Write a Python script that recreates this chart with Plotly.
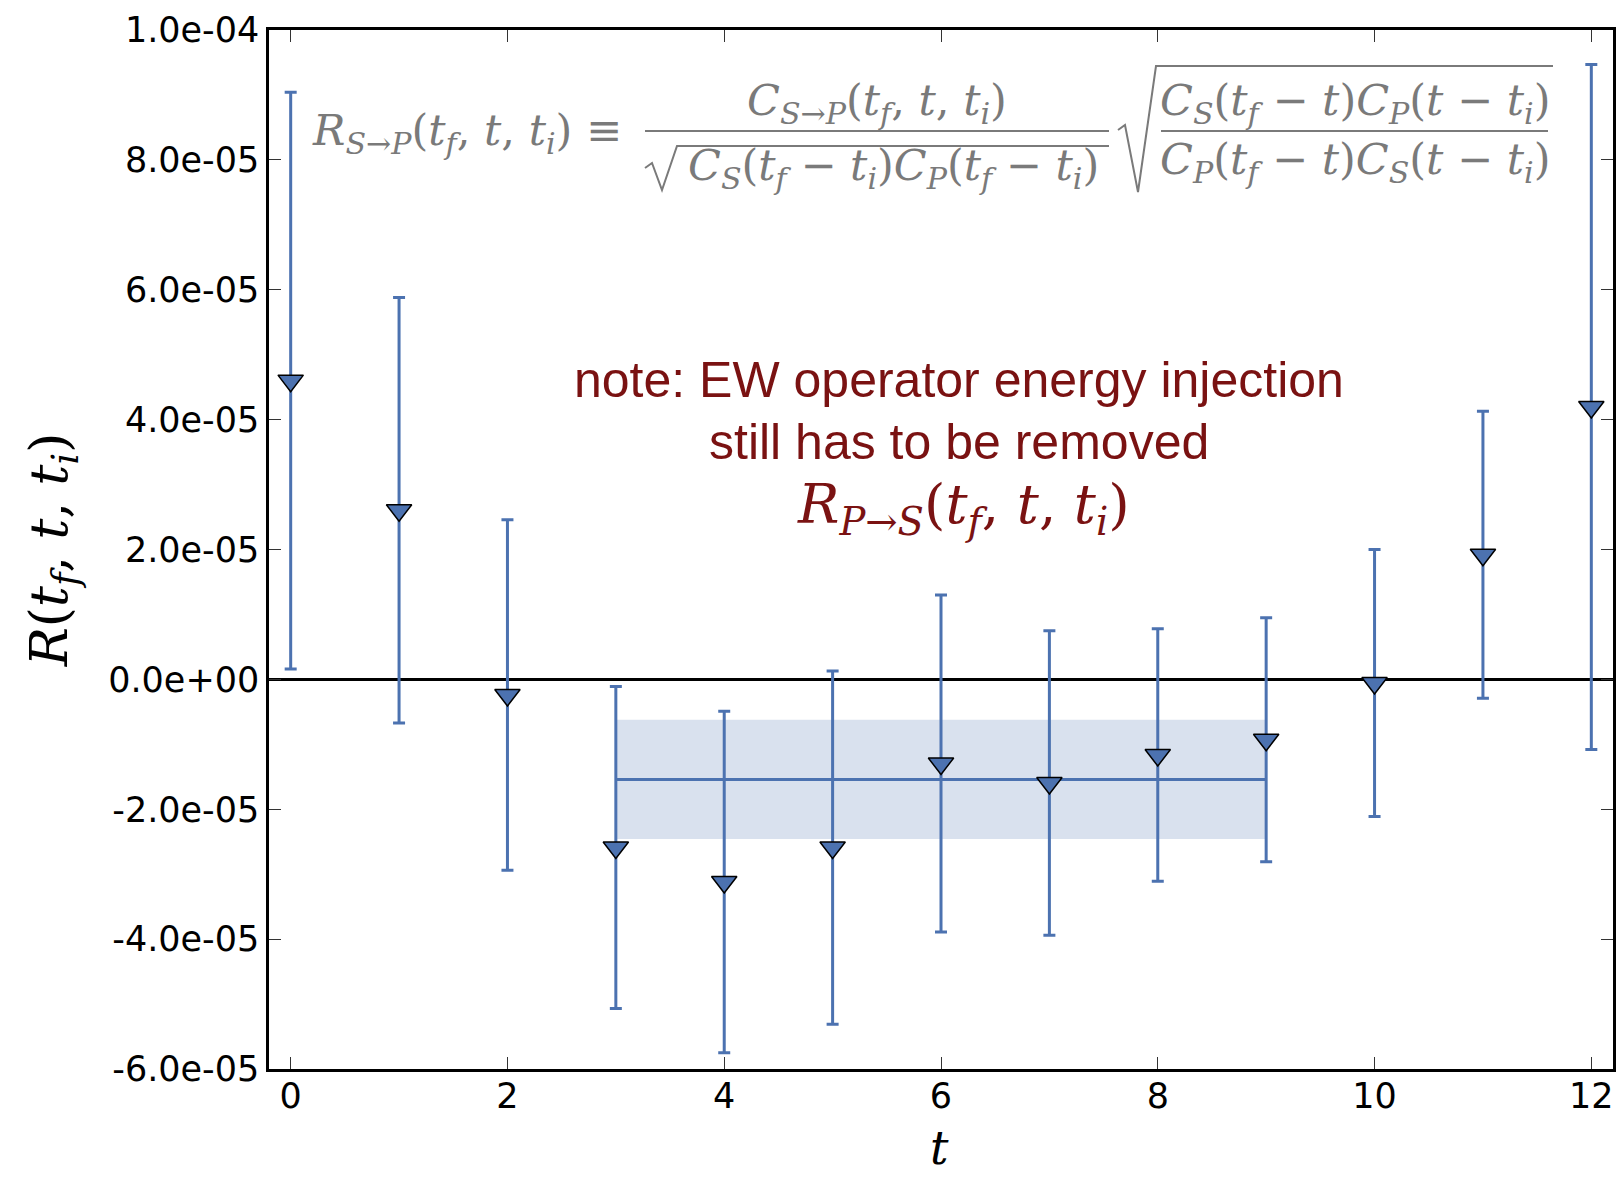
import plotly.graph_objects as go

# ---- data ----
t_vals = [0, 1, 2, 3, 4, 5, 6, 7, 8, 9, 10, 11, 12]
r_vals = [4.60e-5, 2.605e-5, -0.24e-5, -2.59e-5, -3.12e-5, -2.59e-5, -1.295e-5,
          -1.595e-5, -1.165e-5, -0.93e-5, -0.055e-5, 1.92e-5, 4.195e-5]
r_errs = [4.44e-5, 3.275e-5, 2.70e-5, 2.48e-5, 2.63e-5, 2.72e-5, 2.595e-5,
          2.345e-5, 1.945e-5, 1.88e-5, 2.055e-5, 2.21e-5, 5.275e-5]
fit_range = [3, 9]
fit_value = -1.54e-5
fit_error = 0.92e-5
y_tickvals = [-6e-5, -4e-5, -2e-5, 0.0, 2e-5, 4e-5, 6e-5, 8e-5, 1e-4]
y_ticktext = ["-6.0e-05", "-4.0e-05", "-2.0e-05", "0.0e+00", "2.0e-05",
              "4.0e-05", "6.0e-05", "8.0e-05", "1.0e-04"]
x_tickvals = [0, 2, 4, 6, 8, 10, 12]

BLUE = "#4C72B0"
BAND = "rgba(76,114,176,0.21)"
GRAY = "#7a7a7a"
DARKRED = "#7a1212"
SERIF = "DejaVu Serif, Liberation Serif, serif"
SANS = "DejaVu Sans, sans-serif"

W, H = 1618, 1177
L, R, T, B = 269, 5, 30, 108
PW, PH = W - L - R, H - T - B


def px(x):
    return (x - L) / PW


def py(y):
    return 1 - (y - T) / PH


fig = go.Figure()

# fit band
x0, x1 = fit_range
fig.add_trace(go.Scatter(
    x=[x0, x1, x1, x0, x0],
    y=[fit_value + fit_error, fit_value + fit_error, fit_value - fit_error,
       fit_value - fit_error, fit_value + fit_error],
    fill="toself", fillcolor=BAND, line=dict(width=0), mode="lines",
    hoverinfo="skip", showlegend=False))
fig.add_trace(go.Scatter(
    x=[x0, x1], y=[fit_value, fit_value], mode="lines",
    line=dict(color=BLUE, width=3), showlegend=False))

# data points
fig.add_trace(go.Scatter(
    x=t_vals, y=r_vals, mode="markers",
    error_y=dict(type="data", array=r_errs, visible=True, color=BLUE,
                 thickness=3, width=6),
    marker=dict(symbol="triangle-down", size=22, color=BLUE,
                line=dict(color="black", width=1.5)),
    showlegend=False))

ann = []


def add_text(x, y, text, family, size, color, yanchor="middle"):
    ann.append(dict(x=px(x), y=py(y), xref="paper", yref="paper", text=text,
                    showarrow=False, xanchor="center", yanchor=yanchor,
                    font=dict(family=family, size=size, color=color)))


NOTE_FONT = "Liberation Sans, sans-serif"
add_text(959, 380, "note: EW operator energy injection", NOTE_FONT, 50, DARKRED)
add_text(959, 442, "still has to be removed", NOTE_FONT, 50, DARKRED)
add_text(963, 508,
         "<i>R</i><sub><i>P</i>→<i>S</i></sub>(<i>t</i><sub><i>f</i></sub>, <i>t</i>, <i>t</i><sub><i>i</i></sub>)",
         SERIF, 55, DARKRED)

# formula
fs = 43
add_text(467, 133,
         "<i>R</i><sub><i>S</i>→<i>P</i></sub>(<i>t</i><sub><i>f</i></sub>, <i>t</i>, <i>t</i><sub><i>i</i></sub>) ≡",
         SERIF, fs, GRAY)
add_text(877, 103,
         "<i>C</i><sub><i>S</i>→<i>P</i></sub>(<i>t</i><sub><i>f</i></sub>, <i>t</i>, <i>t</i><sub><i>i</i></sub>)",
         SERIF, fs, GRAY)
add_text(893, 168,
         "<i>C</i><sub><i>S</i></sub>(<i>t</i><sub><i>f</i></sub> − <i>t</i><sub><i>i</i></sub>)<i>C</i><sub><i>P</i></sub>(<i>t</i><sub><i>f</i></sub> − <i>t</i><sub><i>i</i></sub>)",
         SERIF, fs, GRAY)
add_text(1355, 103,
         "<i>C</i><sub><i>S</i></sub>(<i>t</i><sub><i>f</i></sub> − <i>t</i>)<i>C</i><sub><i>P</i></sub>(<i>t</i> − <i>t</i><sub><i>i</i></sub>)",
         SERIF, fs, GRAY)
add_text(1355, 162,
         "<i>C</i><sub><i>P</i></sub>(<i>t</i><sub><i>f</i></sub> − <i>t</i>)<i>C</i><sub><i>S</i></sub>(<i>t</i> − <i>t</i><sub><i>i</i></sub>)",
         SERIF, fs, GRAY)

# x-axis title (placed as annotation for exact position)
add_text(939, 1177, "<i>t</i>", SERIF, 46, "black", yanchor="bottom")


def path(points):
    return "M " + " L ".join(f"{px(a):.5f},{py(b):.5f}" for a, b in points)


shapes = []
# fraction bars
shapes.append(dict(type="line", xref="paper", yref="paper", x0=px(645), x1=px(1109),
                   y0=py(131), y1=py(131), line=dict(color=GRAY, width=2)))
shapes.append(dict(type="line", xref="paper", yref="paper", x0=px(1161), x1=px(1548),
                   y0=py(131), y1=py(131), line=dict(color=GRAY, width=2)))
# sqrt signs
shapes.append(dict(type="path", xref="paper", yref="paper",
                   path=path([(645, 168), (652, 163), (662, 190), (677, 146), (1109, 146)]),
                   line=dict(color=GRAY, width=2)))
shapes.append(dict(type="path", xref="paper", yref="paper",
                   path=path([(1118, 130), (1125, 125), (1138, 192), (1156, 66), (1553, 66)]),
                   line=dict(color=GRAY, width=2)))

fig.update_layout(
    width=W, height=H,
    margin=dict(l=L, r=R, t=T, b=B),
    plot_bgcolor="white", paper_bgcolor="white",
    annotations=ann, shapes=shapes,
    font=dict(family=SANS, size=35, color="black"),
    xaxis=dict(range=[-0.2, 12.2], tickvals=x_tickvals, ticks="inside", ticklen=12,
               tickwidth=1.2, tickcolor="#333", mirror="ticks", showline=True,
               linecolor="black", linewidth=2.5, showgrid=False, zeroline=False,
               tickfont=dict(size=35), automargin=False, ticklabelstandoff=-6),
    yaxis=dict(range=[-6e-5, 1e-4], tickvals=y_tickvals, ticktext=y_ticktext,
               ticks="inside", ticklen=12, tickwidth=1.2, tickcolor="#333",
               mirror="ticks", showline=True, linecolor="black", linewidth=2.5,
               showgrid=False, zeroline=True, zerolinecolor="black", zerolinewidth=2.5,
               tickfont=dict(size=35), automargin=False,
               title=dict(text="<i>R</i>(<i>t</i><sub><i>f</i></sub>, <i>t</i>, <i>t</i><sub><i>i</i></sub>)",
                          font=dict(family=SERIF, size=52), standoff=24)),
)

fig.write_html("out.html")
